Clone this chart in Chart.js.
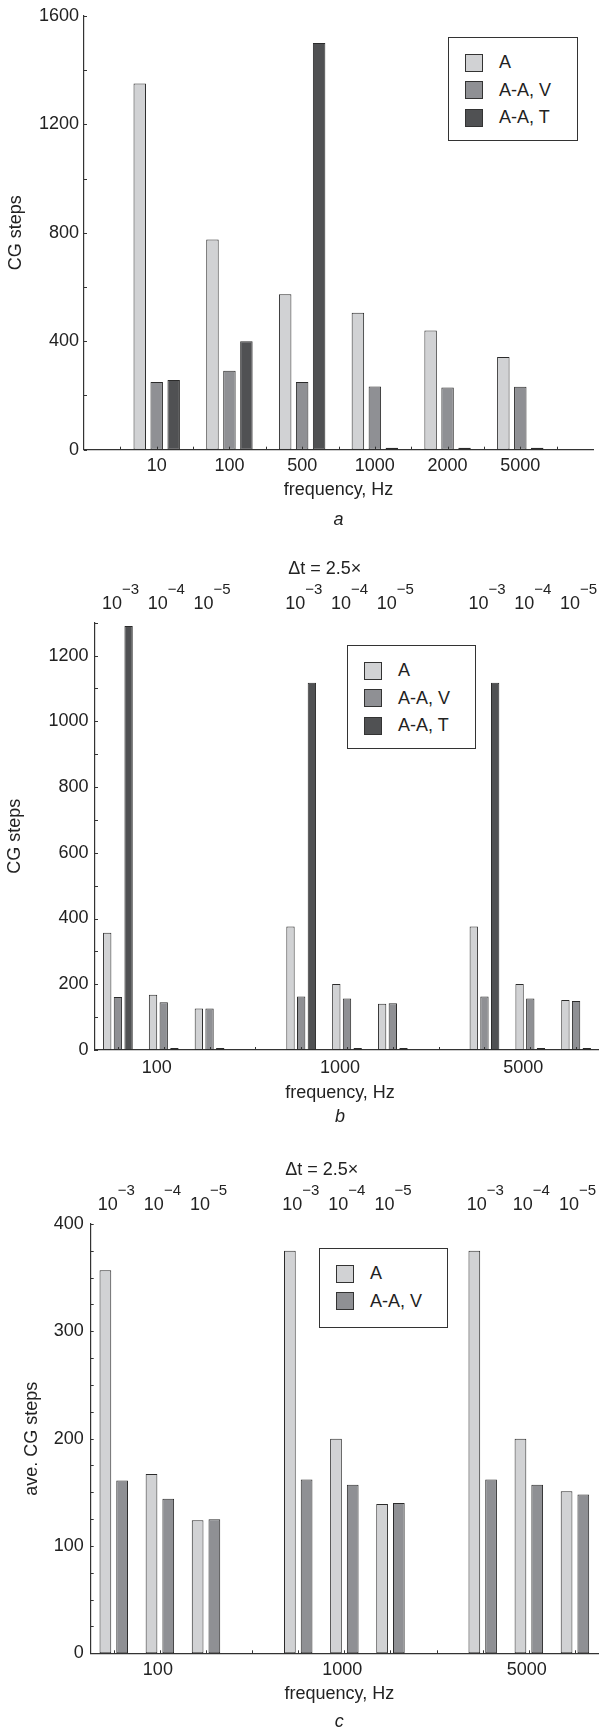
<!DOCTYPE html>
<html>
<head>
<meta charset="utf-8">
<script src="https://cdn.jsdelivr.net/npm/chart.js@4.4.1/dist/chart.umd.min.js"></script>
<style>
  body { margin: 0; background: #fff; }
  #page { position: relative; width: 599px; height: 1728px; overflow: hidden;
          font-family: "Liberation Sans", Arial, sans-serif; color: #222; }
  .panel { position: absolute; left: 0; width: 599px; }
  .legend { position: absolute; box-sizing: border-box; background: #fff; border: 1.3px solid #333;
            padding: 11px 0 0 16px; font-size: 18px; }
  .legend .row { height: 27.5px; display: flex; align-items: center; }
  .legend .sw { width: 18px; height: 18px; box-sizing: border-box; border: 1.3px solid #333; margin-right: 16px; }
</style>
</head>
<body>
<div id="page">
  <div class="panel" style="top:0;height:540px"><canvas id="chartA"></canvas></div>
  <div class="panel" style="top:540px;height:590px"><canvas id="chartB"></canvas></div>
  <div class="panel" style="top:1130px;height:598px"><canvas id="chartC"></canvas></div>
</div>
<script>
// ---- panel a : CG steps vs frequency
const freqA = ["10", "100", "500", "1000", "2000", "5000"];
const aStepsA = [1350, 775, 573, 505, 440, 342];
const aStepsV = [250, 291, 250, 233, 229, 232];
const aStepsT = [257, 400, 1500, 0, 0, 0];

// ---- panels b, c : three frequencies, each with dt = 2.5e-3, 2.5e-4, 2.5e-5
const freqBC = ["100", "1000", "5000"];
const dtExp = ["\u22123", "\u22124", "\u22125"];
const bStepsA = [357, 168, 126, 376, 201, 141, 376, 201, 152];
const bStepsV = [161, 145, 126, 163, 157, 142, 163, 157, 149];
const bStepsT = [1290, 0, 0, 1117, 0, 0, 1117, 0, 0];
const cStepsA = [357, 167, 124, 375, 200, 139, 375, 200, 151];
const cStepsV = [161, 144, 125, 162, 157, 140, 162, 157, 148];

const colA = "#d1d2d4", colV = "#8f9094", colT = "#505153", edge = "#2b2b2b", ink = "#222";

Chart.defaults.font.family = '"Liberation Sans", Arial, sans-serif';
Chart.defaults.font.size = 18;
Chart.defaults.color = ink;

// one empty slot between frequency groups
function toSlots(vals) {
  const out = [];
  vals.forEach((v, i) => {
    out.push(v);
    if (i % 3 === 2 && i < vals.length - 1) out.push(null);
  });
  return out;
}
const slotLabels = [];
freqBC.forEach((f, g) => {
  slotLabels.push("", f, "");
  if (g < freqBC.length - 1) slotLabels.push("");
});

function bar(label, data, color) {
  return { label: label, data: data, backgroundColor: color, borderColor: edge,
           borderWidth: 1, borderSkipped: false, minBarLength: 2 };
}

// small inward ticks, axis title, top labels and caption letter
const decor = {
  id: "decor",
  afterDraw(chart, args, opts) {
    const { ctx, chartArea: ca, scales: { x, y } } = chart;
    ctx.save();
    ctx.strokeStyle = "#333";
    ctx.lineWidth = 1;
    y.ticks.forEach((t) => {
      const py = Math.round(y.getPixelForValue(t.value)) + 0.5;
      ctx.beginPath(); ctx.moveTo(ca.left, py); ctx.lineTo(ca.left + 3, py); ctx.stroke();
    });
    opts.xTicks.forEach((v) => {
      const px = Math.round(x.getPixelForValue(v)) + 0.5;
      ctx.beginPath(); ctx.moveTo(px, ca.bottom); ctx.lineTo(px, ca.bottom - 3); ctx.stroke();
    });
    ctx.fillStyle = ink;
    ctx.textBaseline = "middle";
    if (opts.top) {
      ctx.font = '18px "Liberation Sans"';
      ctx.textAlign = "left";
      ctx.fillText("\u0394t = 2.5\u00d7", x.getPixelForValue(4) - 13, ca.top - 54);
      freqBC.forEach((f, g) => {
        dtExp.forEach((e, k) => {
          const px = x.getPixelForValue(g * 4 + k) + 4;
          ctx.font = '18px "Liberation Sans"';
          ctx.textAlign = "right";
          ctx.fillText("10", px, ca.top - 19);
          ctx.font = '15px "Liberation Sans"';
          ctx.textAlign = "left";
          ctx.fillText(e, px, ca.top - 33);
        });
      });
    }
    const cx = (ca.left + ca.right) / 2 + opts.dx;
    ctx.textAlign = "center";
    ctx.font = '18px "Liberation Sans"';
    ctx.fillText("frequency, Hz", cx, opts.titleY);
    ctx.font = 'italic 18px "Liberation Sans"';
    ctx.fillText(opts.caption, cx, opts.captionY);
    ctx.restore();
  },
};

function makeChart(id, cfg) {
  return new Chart(document.getElementById(id), {
    type: "bar",
    data: { labels: cfg.labels, datasets: cfg.datasets },
    options: {
      responsive: true,
      maintainAspectRatio: false,
      animation: false,
      layout: { padding: cfg.pad },
      datasets: { bar: { categoryPercentage: cfg.cp, barPercentage: cfg.bp } },
      plugins: {
        legend: { display: false },
        tooltip: { enabled: false },
        decor: cfg.decor,
      },
      scales: {
        x: {
          offset: cfg.offset,
          grid: { display: false, drawTicks: false },
          border: { display: true, color: "#333", width: 1.2 },
          ticks: { padding: cfg.xPad, autoSkip: false, maxRotation: 0, labelOffset: cfg.labelOffset },
          afterFit: (s) => { s.height = cfg.xHeight; },
        },
        y: {
          min: 0, max: cfg.max,
          grid: { display: false, drawTicks: false },
          border: { display: true, color: "#333", width: 1.2 },
          ticks: { stepSize: cfg.minor, padding: cfg.yPad, autoSkip: false,
                   callback: (v) => (v % cfg.major === 0 ? v : "") },
          title: { display: true, text: cfg.yTitle, padding: { top: cfg.yTitlePad, bottom: 0 } },
          afterFit: (s) => { s.width = cfg.yWidth; },
        },
      },
    },
    plugins: [decor],
  });
}

function htmlLegend(chart, box) {
  const el = document.createElement("div");
  el.className = "legend";
  Object.assign(el.style, { left: box[0] + "px", top: box[1] + "px", width: box[2] + "px", height: box[3] + "px" });
  chart.data.datasets.forEach((ds) => {
    const row = document.createElement("div");
    row.className = "row";
    const sw = document.createElement("span");
    sw.className = "sw";
    sw.style.background = ds.backgroundColor;
    row.appendChild(sw);
    row.appendChild(document.createTextNode(ds.label));
    el.appendChild(row);
  });
  document.getElementById("page").appendChild(el);
}

const padA = (arr) => [null, ...arr, null];
const chartA = makeChart("chartA", {
  labels: ["", ...freqA, ""],
  datasets: [bar("A", padA(aStepsA), colA), bar("A-A, V", padA(aStepsV), colV), bar("A-A, T", padA(aStepsT), colT)],
  pad: { top: 15, right: 2, left: 0, bottom: 0 },
  offset: false, cp: 0.7, bp: 0.735,
  xPad: 6, xHeight: 90.3, labelOffset: 0,
  max: 1600, minor: 200, major: 400, yPad: 5, yTitle: "CG steps", yTitlePad: 5, yWidth: 84,
  decor: { xTicks: [0.5, 1, 1.5, 2, 2.5, 3, 3.5, 4, 4.5, 5, 5.5, 6, 6.5], top: false,
           dx: 0, titleY: 490, caption: "a", captionY: 520 },
});

const slotTicks = slotLabels.map((l, i) => i);
const chartB = makeChart("chartB", {
  labels: slotLabels,
  datasets: [bar("A", toSlots(bStepsA), colA), bar("A-A, V", toSlots(bStepsV), colV), bar("A-A, T", toSlots(bStepsT), colT)],
  pad: { top: 82.7, right: 0, left: 0, bottom: 0 },
  offset: true, cp: 0.7, bp: 0.78,
  xPad: 7, xHeight: 80, labelOffset: -7,
  max: 1300, minor: 100, major: 200, yPad: 6.5, yTitle: "CG steps", yTitlePad: 4, yWidth: 95,
  decor: { xTicks: slotTicks, top: true, dx: -7, titleY: 553.5, caption: "b", captionY: 577 },
});

const chartC = makeChart("chartC", {
  labels: slotLabels,
  datasets: [bar("A", toSlots(cStepsA), colA), bar("A-A, V", toSlots(cStepsV), colV)],
  pad: { top: 94, right: 1, left: 0, bottom: 0 },
  offset: true, cp: 0.726, bp: 0.7,
  xPad: 6, xHeight: 74.7, labelOffset: -2,
  max: 400, minor: 25, major: 100, yPad: 7, yTitle: "ave. CG steps", yTitlePad: 21, yWidth: 90.7,
  decor: { xTicks: slotTicks, top: true, dx: -5, titleY: 564, caption: "c", captionY: 592 },
});

htmlLegend(chartA, [448, 37, 130, 104]);
htmlLegend(chartB, [347, 645, 129, 104]);
htmlLegend(chartC, [319, 1248, 129, 80]);
</script>
</body>
</html>
